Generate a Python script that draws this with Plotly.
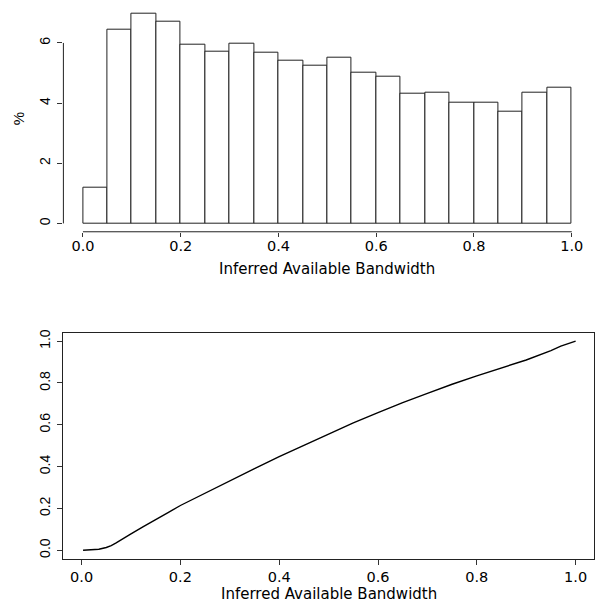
import plotly.graph_objects as go

# ---- data ----
bin_left = [0.00, 0.05, 0.10, 0.15, 0.20, 0.25, 0.30, 0.35, 0.40, 0.45,
            0.50, 0.55, 0.60, 0.65, 0.70, 0.75, 0.80, 0.85, 0.90, 0.95]
bin_width = 0.05
pct = [1.19, 6.43, 6.96, 6.72, 5.95, 5.70, 5.99, 5.68, 5.42, 5.23,
       5.50, 5.00, 4.87, 4.30, 4.33, 4.03, 4.00, 3.73, 4.36, 4.52]

cdf_x = [0.003, 0.02, 0.035, 0.05, 0.06, 0.07, 0.08, 0.10, 0.125, 0.15,
         0.175, 0.20, 0.25, 0.30, 0.35, 0.40, 0.45, 0.50, 0.55, 0.60,
         0.65, 0.70, 0.75, 0.80, 0.85, 0.90, 0.95, 0.97, 1.00]
cdf_y = [0.000, 0.001, 0.005, 0.013, 0.022, 0.035, 0.050, 0.078, 0.113, 0.145,
         0.180, 0.214, 0.274, 0.331, 0.390, 0.448, 0.501, 0.554, 0.609, 0.658,
         0.706, 0.750, 0.794, 0.834, 0.873, 0.910, 0.955, 0.976, 1.000]

x_ticks = [0.0, 0.2, 0.4, 0.6, 0.8, 1.0]
x_tick_text = ["0.0", "0.2", "0.4", "0.6", "0.8", "1.0"]
hist_y_ticks = [0, 2, 4, 6]
cdf_y_ticks = [0.0, 0.2, 0.4, 0.6, 0.8, 1.0]
cdf_y_tick_text = ["0.0", "0.2", "0.4", "0.6", "0.8", "1.0"]
x_label = "Inferred Available Bandwidth"
y_label_hist = "%"

# ---- figure ----
W, H = 595, 603
hfont = dict(family="DejaVu Sans", size=14.5, color="black")
vfont = dict(family="Liberation Sans, Arial", size=14, color="black")

centers = [b + bin_width / 2 for b in bin_left]
fig = go.Figure()
fig.add_trace(go.Bar(
    x=centers, y=pct, width=bin_width,
    marker=dict(color="white", line=dict(color="#222222", width=1)),
    xaxis="x", yaxis="y", showlegend=False, hoverinfo="skip"))
fig.add_trace(go.Scatter(
    x=cdf_x, y=cdf_y, mode="lines",
    line=dict(color="black", width=1.4),
    xaxis="x2", yaxis="y2", showlegend=False, hoverinfo="skip"))

ymax = max(pct)
common_tick = dict(ticks="outside", tickcolor="#333333", tickwidth=1,
                   showgrid=False, zeroline=False)

fig.update_layout(
    width=W, height=H,
    margin=dict(l=0, r=0, t=0, b=0),
    paper_bgcolor="white", plot_bgcolor="white",
    bargap=0,
    xaxis=dict(domain=[63.5 / W, 592.3 / W], range=[-0.04, 1.04],
               tickvals=x_ticks, ticktext=x_tick_text, ticklen=4,
               tickfont=hfont, showline=False, anchor="y",
               ticklabelstandoff=-3, **common_tick),
    yaxis=dict(domain=[1 - 229.3 / H, 1 - 1.7 / H],
               range=[-0.04 * ymax, 1.04 * ymax],
               tickvals=hist_y_ticks, ticktext=[str(v) for v in hist_y_ticks],
               ticklen=5.5, tickangle=-90, tickfont=vfont,
               showline=False, anchor="x", ticklabelstandoff=1,
               **common_tick),
    xaxis2=dict(domain=[63.3 / W, 1.0], range=[-0.0372, 1.0372],
                tickvals=x_ticks, ticktext=x_tick_text, ticklen=5,
                tickfont=hfont, showline=True, mirror=True,
                linecolor="#222222", linewidth=1, anchor="y2", **common_tick),
    yaxis2=dict(domain=[1 - 558.3 / H, 1 - 331 / H], range=[-0.04, 1.04],
                tickvals=cdf_y_ticks, ticktext=cdf_y_tick_text,
                ticklen=5, tickangle=-90, tickfont=vfont,
                showline=True, mirror=True, linecolor="#222222", linewidth=1,
                anchor="x2", ticklabelstandoff=2, **common_tick),
)

# R-style axis lines for the histogram (span first to last tick)
fig.add_shape(type="line", xref="x", yref="y domain",
              x0=x_ticks[0], x1=x_ticks[-1], y0=0, y1=0,
              line=dict(color="#222222", width=1))
fig.add_shape(type="line", xref="x domain", yref="y",
              x0=0, x1=0, y0=hist_y_ticks[0], y1=hist_y_ticks[-1],
              line=dict(color="#222222", width=1))

# axis titles
tfont = dict(family="DejaVu Sans", size=15, color="black")
fig.add_annotation(text=x_label, xref="x", yref="paper", x=0.5, y=1 - 267 / H,
                   showarrow=False, font=tfont, xanchor="center", yanchor="middle")
fig.add_annotation(text=x_label, xref="x2", yref="paper", x=0.5, y=1 - 594 / H,
                   showarrow=False, font=tfont, xanchor="center", yanchor="middle")
fig.add_annotation(text=y_label_hist, xref="paper", yref="paper",
                   x=18.5 / W, y=1 - 115.5 / H, textangle=-90,
                   showarrow=False, font=dict(family="Liberation Sans, Arial", size=15, color="black"),
                   xanchor="center", yanchor="middle")

fig.write_html("out.html", config={"displayModeBar": False},
               post_script="document.body.style.margin='0';document.body.style.padding='0';document.body.style.overflow='hidden';")
